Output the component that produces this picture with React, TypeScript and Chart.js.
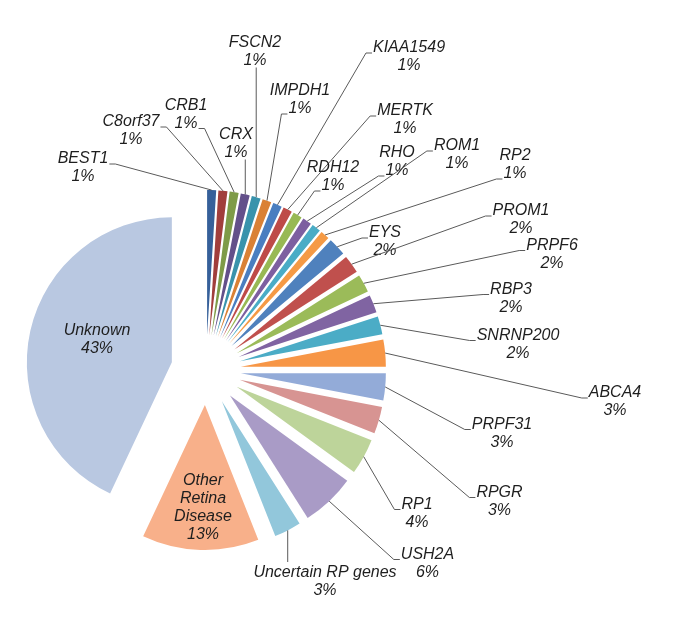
import React, { useEffect, useRef } from 'react';
import { Chart, registerables, ArcElement, PieController } from 'chart.js';

// ---- data ----
const categories = [
  'BEST1', 'C8orf37', 'CRB1', 'CRX', 'FSCN2', 'IMPDH1', 'KIAA1549', 'MERTK',
  'RDH12', 'RHO', 'ROM1', 'RP2', 'EYS', 'PROM1', 'PRPF6', 'RBP3', 'SNRNP200',
  'ABCA4', 'PRPF31', 'RPGR', 'RP1', 'USH2A', 'Uncertain RP genes',
  'Other Retina Disease', 'Unknown',
];
const shares = [1, 1, 1, 1, 1, 1, 1, 1, 1, 1, 1, 1, 2, 2, 2, 2, 2, 3, 3, 3, 4, 6, 3, 13, 43];

// ---- styles ----
const sliceColors = [
  '#36609A', '#A13E3C', '#7E9B48', '#63508A', '#3993AC', '#DA8135',
  '#4A7EC0', '#BE4B48', '#98B954', '#7D5FA0', '#4AACC6', '#F59A45',
  '#4F81BD', '#C0504D', '#9BBB59', '#8064A2', '#4BACC6', '#F79646',
  '#93ABD8', '#D79492', '#BDD49A', '#A99BC6', '#92C7DB', '#F8B08A', '#B9C8E1',
];

// label layout: centre of first text line (x, y) and how the leader attaches
const labelLayout: [number, number, string][] = [
  [83, 157, 'r'], [131, 120, 'r'], [186, 103.5, 'r2'], [236, 132.5, 'b'],
  [255, 40.5, 'b'], [300, 89, 'l2'], [409, 46, 'l'], [405, 109, 'l'],
  [333, 166, 'l2'], [397, 151, 'l2'], [457, 144, 'l'], [515, 154, 'l2'],
  [385, 231, 'l'], [521, 209, 'l'], [552, 243.5, 'l'], [511, 287.5, 'l'],
  [518, 333.5, 'l'], [615, 391, 'l'], [502, 422.5, 'l'], [499.5, 490.5, 'l'],
  [417, 502.5, 'l'], [427.5, 552.5, 'l'], [325, 571, 't'],
  [203, 479, 'in'], [97, 329, 'in'],
];

const RADIUS = 145;
const EXPLODE = 35;
const LINE_H = 18;
const FONT = 'italic 16px "Liberation Sans", Arial, sans-serif';

// Arc that is pulled out of the pie along its bisector (Excel-style explosion)
class ExplodedArc extends (ArcElement as any) {
  static id = 'explodedArc';
  draw(ctx: CanvasRenderingContext2D) {
    const self: any = this;
    const h = (self.startAngle + self.endAngle) / 2;
    ctx.save();
    ctx.translate(Math.cos(h) * EXPLODE, Math.sin(h) * EXPLODE);
    super.draw(ctx);
    ctx.restore();
  }
}

class ExplodedPieController extends (PieController as any) {
  static id = 'explodedPie';
  static defaults = { dataElementType: 'explodedArc' };
}

Chart.register(...registerables, ExplodedArc as any, ExplodedPieController as any);

const labelPlugin = {
  id: 'sliceLabels',
  afterDatasetsDraw(chart: any) {
    const ctx = chart.ctx;
    const meta = chart.getDatasetMeta(0);
    ctx.save();
    ctx.font = FONT;
    ctx.textAlign = 'center';
    ctx.textBaseline = 'alphabetic';
    meta.data.forEach((arc: any, i: number) => {
      const h = (arc.startAngle + arc.endAngle) / 2;
      const px = arc.x + Math.cos(h) * (EXPLODE + arc.outerRadius);
      const py = arc.y + Math.sin(h) * (EXPLODE + arc.outerRadius);
      const [lx, ly, side] = labelLayout[i];
      const pct = shares[i] + '%';
      const lines = side === 'in' ? [...categories[i].split(' '), pct] : [categories[i], pct];

      ctx.fillStyle = '#1e1e1e';
      lines.forEach((t, k) => ctx.fillText(t, lx, ly + k * LINE_H + 6));

      if (side === 'in') return;
      ctx.strokeStyle = '#5a5a5a';
      ctx.lineWidth = 1;
      ctx.beginPath();
      if (side === 'b') {
        ctx.moveTo(px, py);
        ctx.lineTo(px, ly + LINE_H + 9);
      } else if (side === 't') {
        ctx.moveTo(px, py);
        ctx.lineTo(px, ly - 9);
      } else {
        const li = side.endsWith('2') ? 1 : 0;
        const w = ctx.measureText(lines[li]).width;
        const yb = ly + li * LINE_H + 7;
        if (side[0] === 'l') {
          const x0 = lx - w / 2 - 1;
          ctx.moveTo(px, py);
          ctx.lineTo(x0 - 6, yb);
          ctx.lineTo(x0, yb);
        } else {
          const x0 = lx + w / 2 + 1;
          ctx.moveTo(px, py);
          ctx.lineTo(x0 + 6, yb);
          ctx.lineTo(x0, yb);
        }
      }
      ctx.stroke();
    });
    ctx.restore();
  },
};

export default function App() {
  const ref = useRef<HTMLCanvasElement | null>(null);
  useEffect(() => {
    if (!ref.current) return;
    const chart = new Chart(ref.current, {
      type: 'explodedPie' as any,
      data: {
        labels: categories,
        datasets: [
          {
            data: shares,
            backgroundColor: sliceColors,
            borderWidth: 0,
            radius: RADIUS,
          } as any,
        ],
      },
      options: {
        responsive: false,
        animation: false,
        devicePixelRatio: 1,
        layout: { padding: { left: 0, right: 263, top: 114, bottom: 0 } },
        plugins: { legend: { display: false }, tooltip: { enabled: false } },
      } as any,
      plugins: [labelPlugin],
    });
    return () => chart.destroy();
  }, []);
  return (
    <div style={{ position: 'absolute', left: 0, top: 0, width: 675, height: 626, background: '#fff' }}>
      <canvas ref={ref} width={675} height={626} style={{ width: 675, height: 626, display: 'block' }} />
    </div>
  );
}
